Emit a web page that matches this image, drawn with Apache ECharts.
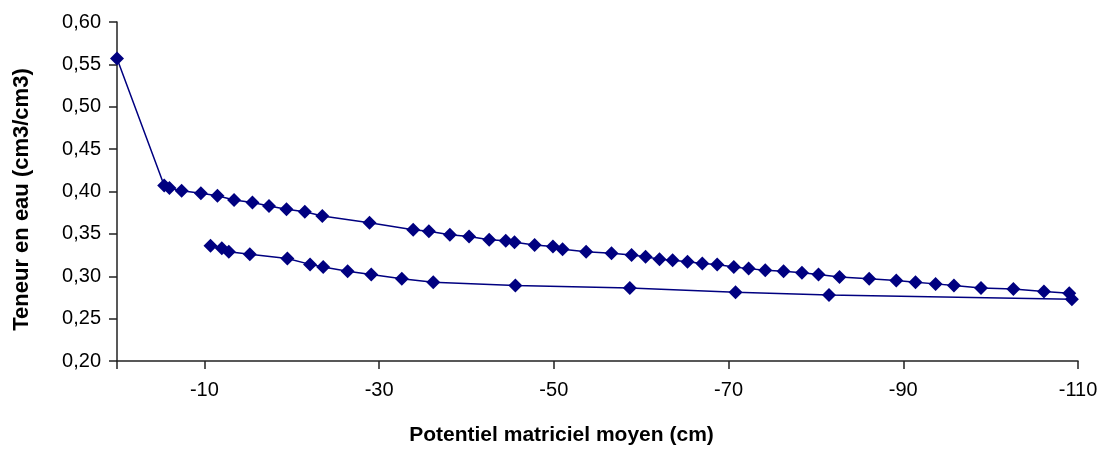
<!DOCTYPE html>
<html>
<head>
<meta charset="utf-8">
<script src="https://cdn.jsdelivr.net/npm/echarts@6/dist/echarts.min.js"></script>
<style>
  html, body { margin: 0; padding: 0; background: #fff; }
  #chart { width: 1106px; height: 451px; }
</style>
</head>
<body>
<div id="chart"></div>
<script>
// courbe du haut (potentiel en cm, teneur en cm3/cm3)
const upperX = [0, -5.4, -6.0, -7.4, -9.6, -11.5, -13.4, -15.5, -17.4, -19.4, -21.5, -23.5, -28.9,
  -33.9, -35.7, -38.1, -40.3, -42.6, -44.5, -45.5, -47.8, -49.9, -51.0, -53.7, -56.6, -58.9,
  -60.5, -62.1, -63.6, -65.3, -67.0, -68.7, -70.6, -72.3, -74.2, -76.3, -78.4, -80.3, -82.7,
  -86.1, -89.2, -91.4, -93.7, -95.8, -98.9, -102.6, -106.1, -109.0];
const upperY = [0.557, 0.407, 0.404, 0.401, 0.398, 0.395, 0.390, 0.387, 0.383, 0.379, 0.376, 0.371, 0.363,
  0.355, 0.353, 0.349, 0.347, 0.343, 0.342, 0.340, 0.337, 0.335, 0.332, 0.329, 0.327, 0.325,
  0.323, 0.320, 0.319, 0.317, 0.315, 0.314, 0.311, 0.309, 0.307, 0.306, 0.304, 0.302, 0.299,
  0.297, 0.295, 0.293, 0.291, 0.289, 0.286, 0.285, 0.282, 0.280];

// courbe du bas
const lowerX = [-10.7, -12.0, -12.8, -15.2, -19.5, -22.1, -23.6, -26.4, -29.1, -32.6, -36.2,
  -45.6, -58.7, -70.8, -81.5, -109.3];
const lowerY = [0.336, 0.333, 0.329, 0.326, 0.321, 0.314, 0.311, 0.306, 0.302, 0.297, 0.293,
  0.289, 0.286, 0.281, 0.278, 0.273];

const xTitle = 'Potentiel matriciel moyen (cm)';
const yTitle = 'Teneur en eau (cm3/cm3)';

const NAVY = '#000080';
const FONT = 'Liberation Sans, Arial, sans-serif';

const chart = echarts.init(document.getElementById('chart'));

function pairs(xs, ys) {
  return xs.map((x, i) => [x, ys[i]]);
}

function lineSeries(xs, ys) {
  return {
    type: 'line',
    data: pairs(xs, ys),
    symbol: 'diamond',
    symbolSize: 14,
    showAllSymbol: true,
    lineStyle: { color: NAVY, width: 1.5 },
    itemStyle: { color: NAVY },
    animation: false
  };
}

chart.setOption({
  backgroundColor: '#fff',
  grid: { left: 117, right: 28, top: 22, bottom: 89, containLabel: false },
  xAxis: {
    type: 'value',
    inverse: true,
    min: -110,
    max: 0,
    interval: 20,
    name: xTitle,
    nameLocation: 'middle',
    nameGap: 64,
    nameTextStyle: {
      fontFamily: FONT, fontSize: 21, fontWeight: 'bold', color: '#000',
      padding: [0, 72, 0, 0]
    },
    axisLine: { lineStyle: { color: '#222', width: 1.5 } },
    axisTick: { show: true, length: 8, lineStyle: { color: '#222', width: 1.5 } },
    axisLabel: {
      margin: 19,
      fontFamily: FONT, fontSize: 20, color: '#000',
      formatter: v => (v === 0 ? '' : String(v))
    },
    splitLine: { show: false }
  },
  yAxis: {
    type: 'value',
    min: 0.2,
    max: 0.6,
    interval: 0.05,
    name: yTitle,
    nameLocation: 'middle',
    nameRotate: 90,
    nameGap: 84,
    nameTextStyle: {
      fontFamily: FONT, fontSize: 22, fontWeight: 'bold', color: '#000',
      padding: [0, 16, 0, 0]
    },
    axisLine: { show: true, lineStyle: { color: '#222', width: 1.5 } },
    axisTick: { show: true, length: 8, lineStyle: { color: '#222', width: 1.5 } },
    axisLabel: {
      margin: 16,
      fontFamily: FONT, fontSize: 20, color: '#000',
      formatter: v => v.toFixed(2).replace('.', ',')
    },
    splitLine: { show: false }
  },
  series: [
    lineSeries(upperX, upperY),
    lineSeries(lowerX, lowerY)
  ]
});
</script>
</body>
</html>
